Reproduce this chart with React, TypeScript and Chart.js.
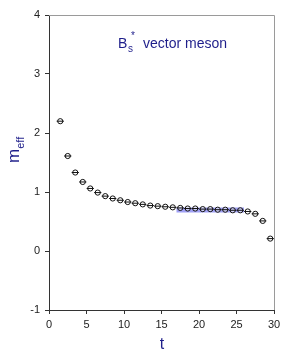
import React, { useEffect, useRef } from "react";
import { Chart, registerables } from "chart.js";
Chart.register(...registerables);

const tValues = [1.5, 2.5, 3.5, 4.5, 5.5, 6.5, 7.5, 8.5, 9.5, 10.5, 11.5, 12.5, 13.5, 14.5, 15.5, 16.5, 17.5, 18.5, 19.5, 20.5, 21.5, 22.5, 23.5, 24.5, 25.5, 26.5, 27.5, 28.5, 29.5];
const mEff = [2.2, 1.61, 1.33, 1.17, 1.06, 0.99, 0.93, 0.89, 0.86, 0.83, 0.81, 0.79, 0.77, 0.76, 0.75, 0.74, 0.73, 0.72, 0.72, 0.71, 0.71, 0.70, 0.70, 0.69, 0.69, 0.67, 0.63, 0.51, 0.21];
const fitT = [17, 26];
const fitValue = [0.695, 0.695];
const xTicks = [0, 5, 10, 15, 20, 25, 30];
const yTicks = [-1, 0, 1, 2, 3, 4];

const NAVY = "#1e1e8a";
const FONT = "Liberation Sans, Arial, sans-serif";

const textPlugin = {
  id: "texts",
  afterDraw(chart: any) {
    const ctx = chart.ctx;
    const a = chart.chartArea;
    ctx.save();
    ctx.strokeStyle = "#9a9a9a";
    ctx.lineWidth = 1;
    ctx.beginPath();
    ctx.moveTo(a.left, a.top + 0.5);
    ctx.lineTo(a.right + 0.5, a.top + 0.5);
    ctx.lineTo(a.right + 0.5, a.bottom);
    ctx.stroke();
    ctx.fillStyle = NAVY;
    ctx.textBaseline = "alphabetic";
    ctx.textAlign = "left";
    ctx.font = `14px ${FONT}`;
    ctx.fillText("B", 118, 48);
    ctx.font = `10px ${FONT}`;
    ctx.fillText("s", 128, 52);
    ctx.fillText("*", 131, 39);
    ctx.font = `14px ${FONT}`;
    ctx.fillText("vector meson", 143, 48);
    ctx.font = `16px ${FONT}`;
    ctx.textAlign = "center";
    ctx.fillText("t", 162, 349);
    ctx.translate(19, 163);
    ctx.rotate(-Math.PI / 2);
    ctx.textAlign = "left";
    ctx.font = `17px ${FONT}`;
    ctx.fillText("m", 0, 0);
    const w = ctx.measureText("m").width;
    ctx.font = `11px ${FONT}`;
    ctx.fillText("eff", w, 5);
    ctx.restore();
  },
};

export default function App() {
  const ref = useRef<HTMLCanvasElement>(null);
  useEffect(() => {
    const pts = tValues.map((t, i) => ({ x: t, y: mEff[i] }));
    const chart = new Chart(ref.current!, {
      type: "scatter",
      data: {
        datasets: [
          {
            data: fitT.map((t, i) => ({ x: t, y: fitValue[i] })),
            showLine: true,
            borderColor: "rgba(120,120,240,0.7)",
            borderWidth: 5,
            pointRadius: 0,
            order: 3,
          },
          {
            data: pts,
            pointStyle: "circle",
            pointRadius: 2.6,
            backgroundColor: "rgba(255,255,255,0.5)",
            borderColor: "#111",
            borderWidth: 1,
            showLine: false,
            order: 2,
          },
          {
            data: pts,
            pointStyle: "line",
            pointRadius: 3.6,
            borderColor: "#111",
            borderWidth: 1,
            showLine: false,
            order: 1,
          },
        ],
      },
      options: {
        responsive: false,
        animation: false,
        devicePixelRatio: 1,
        layout: { padding: { top: 15, right: 26, left: 0, bottom: 0 } },
        plugins: { legend: { display: false }, tooltip: { enabled: false } },
        scales: {
          x: {
            type: "linear",
            min: 0,
            max: 30,
            afterBuildTicks: (s: any) => { s.ticks = xTicks.map((v) => ({ value: v })); },
            afterFit: (s: any) => { s.height = 44; },
            grid: { drawOnChartArea: false, drawTicks: true, tickLength: 4, color: "#333" },
            border: { color: "#333", width: 1 },
            ticks: { color: "#222", font: { family: FONT, size: 11 }, padding: 4, maxRotation: 0 },
          },
          y: {
            type: "linear",
            min: -1,
            max: 4,
            afterBuildTicks: (s: any) => { s.ticks = yTicks.map((v) => ({ value: v })); },
            afterFit: (s: any) => { s.width = 49; },
            grid: { drawOnChartArea: false, drawTicks: true, tickLength: 4, color: "#333" },
            border: { color: "#333", width: 1 },
            ticks: { color: "#222", font: { family: FONT, size: 11 }, padding: 5 },
          },
        },
      },
      plugins: [textPlugin],
    });
    return () => chart.destroy();
  }, []);
  return (
    <div style={{ position: "fixed", left: 0, top: 0, width: 300, height: 354, background: "#fff" }}>
      <canvas ref={ref} width={300} height={354} style={{ width: 300, height: 354 }} />
    </div>
  );
}
